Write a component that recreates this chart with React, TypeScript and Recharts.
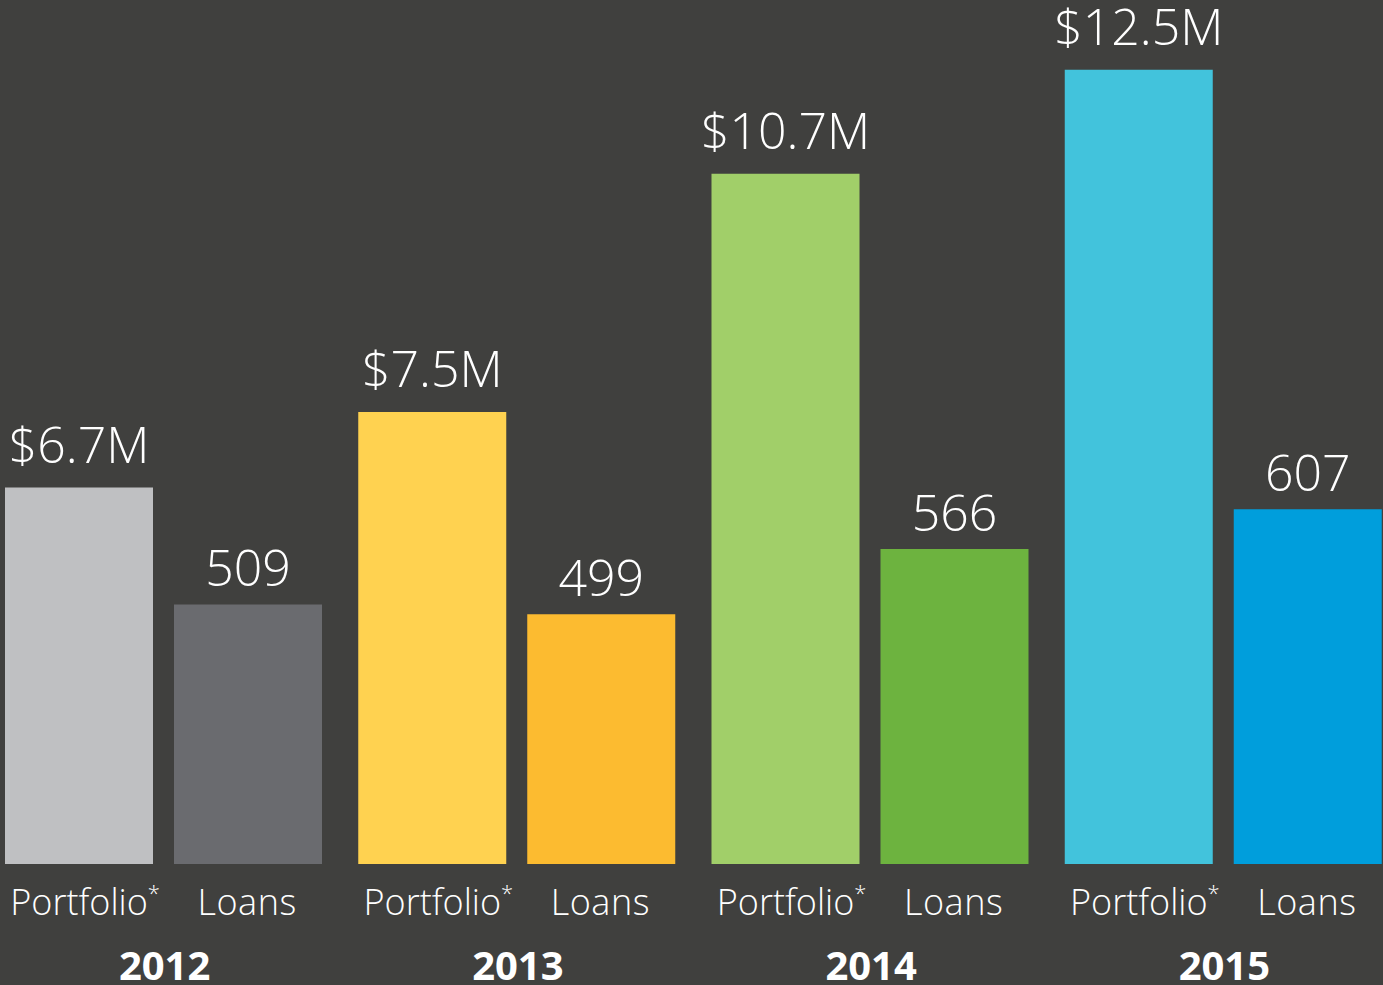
import { BarChart, Bar, XAxis, YAxis, Cell, LabelList } from "recharts";

const years = ["2012", "2013", "2014", "2015"];
const portfolio = [6.7, 7.5, 10.7, 12.5]; // $M
const loans = [509, 499, 566, 607];

const portfolioColors = ["#bfc0c2", "#ffd250", "#a1cf69", "#42c3dc"];
const loansColors = ["#6a6b6f", "#fcbb30", "#6db33f", "#009edc"];

const data = years.map((year, i) => ({
  year,
  portfolio: portfolio[i],
  loans: loans[i],
}));

const FONT = "'Open Sans', 'Noto Sans', sans-serif";
const BAR = 148;
const GAP = 21;

const YearTick = (props: any) => {
  const { x, y, payload } = props;
  const off = GAP / 2 + BAR / 2;
  return (
    <g>
      <text
        x={x - off + 6}
        y={y + 51}
        textAnchor="middle"
        fill="#ffffff"
        fontSize={36}
        fontWeight={300}
        fontFamily={FONT}
      >
        Portfolio
        <tspan fontSize={22} dy={-14}>
          *
        </tspan>
      </text>
      <text
        x={x + off - 1}
        y={y + 51}
        textAnchor="middle"
        fill="#ffffff"
        fontSize={36}
        fontWeight={300}
        fontFamily={FONT}
        letterSpacing={0.5}
      >
        Loans
      </text>
      <text
        x={x + 1}
        y={y + 116}
        textAnchor="middle"
        fill="#ffffff"
        fontSize={40}
        fontWeight={700}
        fontFamily={FONT}
      >
        {payload.value}
      </text>
    </g>
  );
};

export default function App() {
  return (
    <div
      style={{
        position: "absolute",
        left: 0,
        top: 0,
        width: 1383,
        height: 985,
        background: "#40403e",
        overflow: "hidden",
      }}
    >
      <div style={{ position: "absolute", left: -13, top: 0 }}>
        <BarChart
          width={1413}
          height={985}
          data={data}
          margin={{ top: 0, right: 0, left: 0, bottom: 0 }}
          barGap={GAP}
          barSize={BAR}
        >
          <XAxis
            dataKey="year"
            axisLine={false}
            tickLine={false}
            tickSize={0}
            tickMargin={0}
            height={121}
            interval={0}
            tick={<YearTick />}
          />
          <YAxis
            yAxisId="p"
            hide
            type="number"
            scale="log"
            domain={[3.82, 13.87]}
            allowDataOverflow
          />
          <YAxis
            yAxisId="l"
            hide
            type="number"
            domain={[241.8, 1131.2]}
            allowDataOverflow
          />
          <Bar dataKey="portfolio" yAxisId="p" isAnimationActive={false}>
            {data.map((d, i) => (
              <Cell key={`p-${d.year}`} fill={portfolioColors[i]} />
            ))}
            <LabelList
              dataKey="portfolio"
              position="top"
              offset={25}
              formatter={(v: any) => `$${v}M`}
              fill="#ffffff"
              fontSize={50}
              fontWeight={300}
              fontFamily={FONT}
            />
          </Bar>
          <Bar dataKey="loans" yAxisId="l" isAnimationActive={false}>
            {data.map((d, i) => (
              <Cell key={`l-${d.year}`} fill={loansColors[i]} />
            ))}
            <LabelList
              dataKey="loans"
              position="top"
              offset={18}
              fill="#ffffff"
              fontSize={50}
              fontWeight={300}
              fontFamily={FONT}
            />
          </Bar>
        </BarChart>
      </div>
    </div>
  );
}
